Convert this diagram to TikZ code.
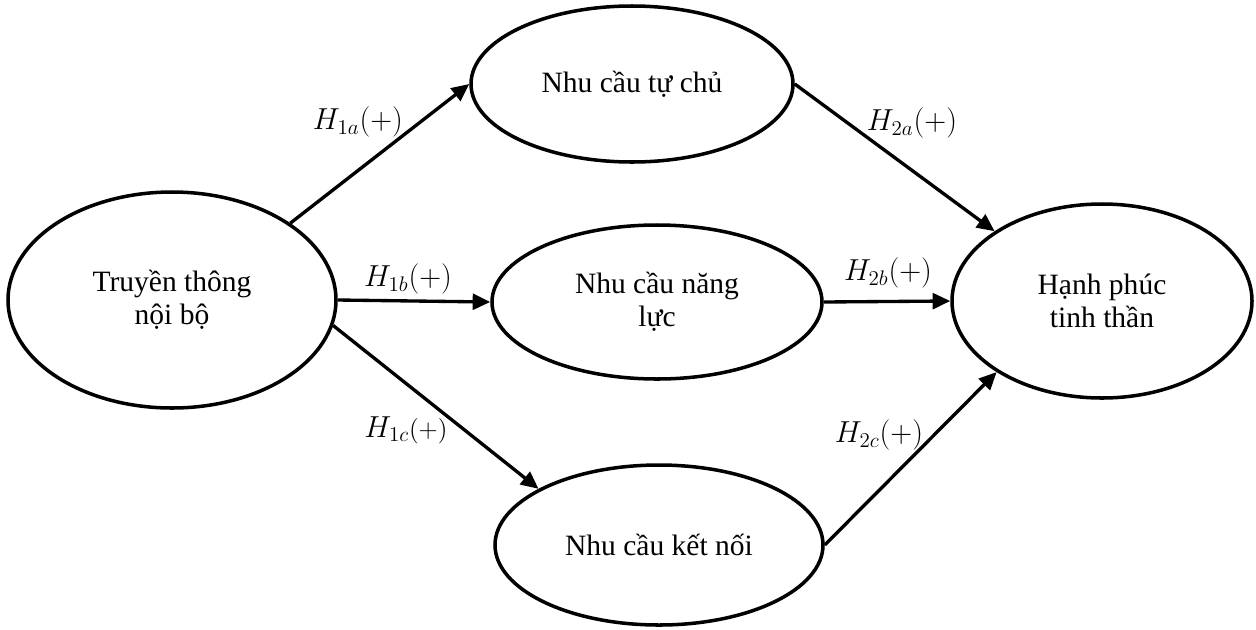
\documentclass[tikz,border=0pt]{standalone}
\usepackage{fontspec}
\setmainfont{Liberation Serif}
\usetikzlibrary{arrows.meta,shapes.geometric}
\tikzset{
  construct/.style={draw, ellipse, line width=2pt, inner sep=0pt, align=center,
    font=\fontsize{16.8}{19}\selectfont},
  link/.style={line width=1.9pt, -{Triangle[length=10pt,width=9pt]}},
  hyp/.style={font=\fontsize{17.5}{19}\selectfont, inner sep=0pt}
}
\begin{document}
\begin{tikzpicture}
\useasboundingbox (0,0) rectangle (25.12,-12.58);
\node[construct, minimum width=6.56cm, minimum height=4.32cm] (L) at (3.44,-6.00) {Truyền thông\\nội bộ};
\node[construct, minimum width=6.44cm, minimum height=3.12cm] (T) at (12.64,-1.68) {Nhu cầu tự chủ};
\node[construct, minimum width=6.60cm, minimum height=3.08cm] (M) at (13.14,-6.04) {Nhu cầu năng\\lực};
\node[construct, minimum width=6.56cm, minimum height=3.20cm] (B) at (13.18,-10.90) {Nhu cầu kết nối};
\node[construct, minimum width=6.00cm, minimum height=3.88cm] (R) at (22.04,-6.02) {Hạnh phúc\\tinh thần};

\draw[link] (L.33.6) -- (T.180);
\draw[link] (L.0) -- (M.180);
\draw[link] (L.-9.5) -- (B.155.6);
\draw[link] (T.0) -- (R.147);
\draw[link] (M.0) -- (R.180);
\draw[link] (B.0) -- (R.214);

\node[hyp] (h1a) at (7.16,-2.44) {$H_{1a}(+)$};
\node[hyp] (h1b) at (8.16,-5.58) {$H_{1b}(+)$};
\node[hyp] (h1c) at (8.12,-8.60) {$H_{1c}${\fontsize{14}{15}\selectfont$(+)$}};
\node[hyp] (h2a) at (18.24,-2.46) {$H_{2a}(+)$};
\node[hyp] (h2b) at (17.76,-5.46) {$H_{2b}(+)$};
\node[hyp] (h2c) at (17.58,-8.70) {$H_{2c}(+)$};
\end{tikzpicture}
\end{document}
